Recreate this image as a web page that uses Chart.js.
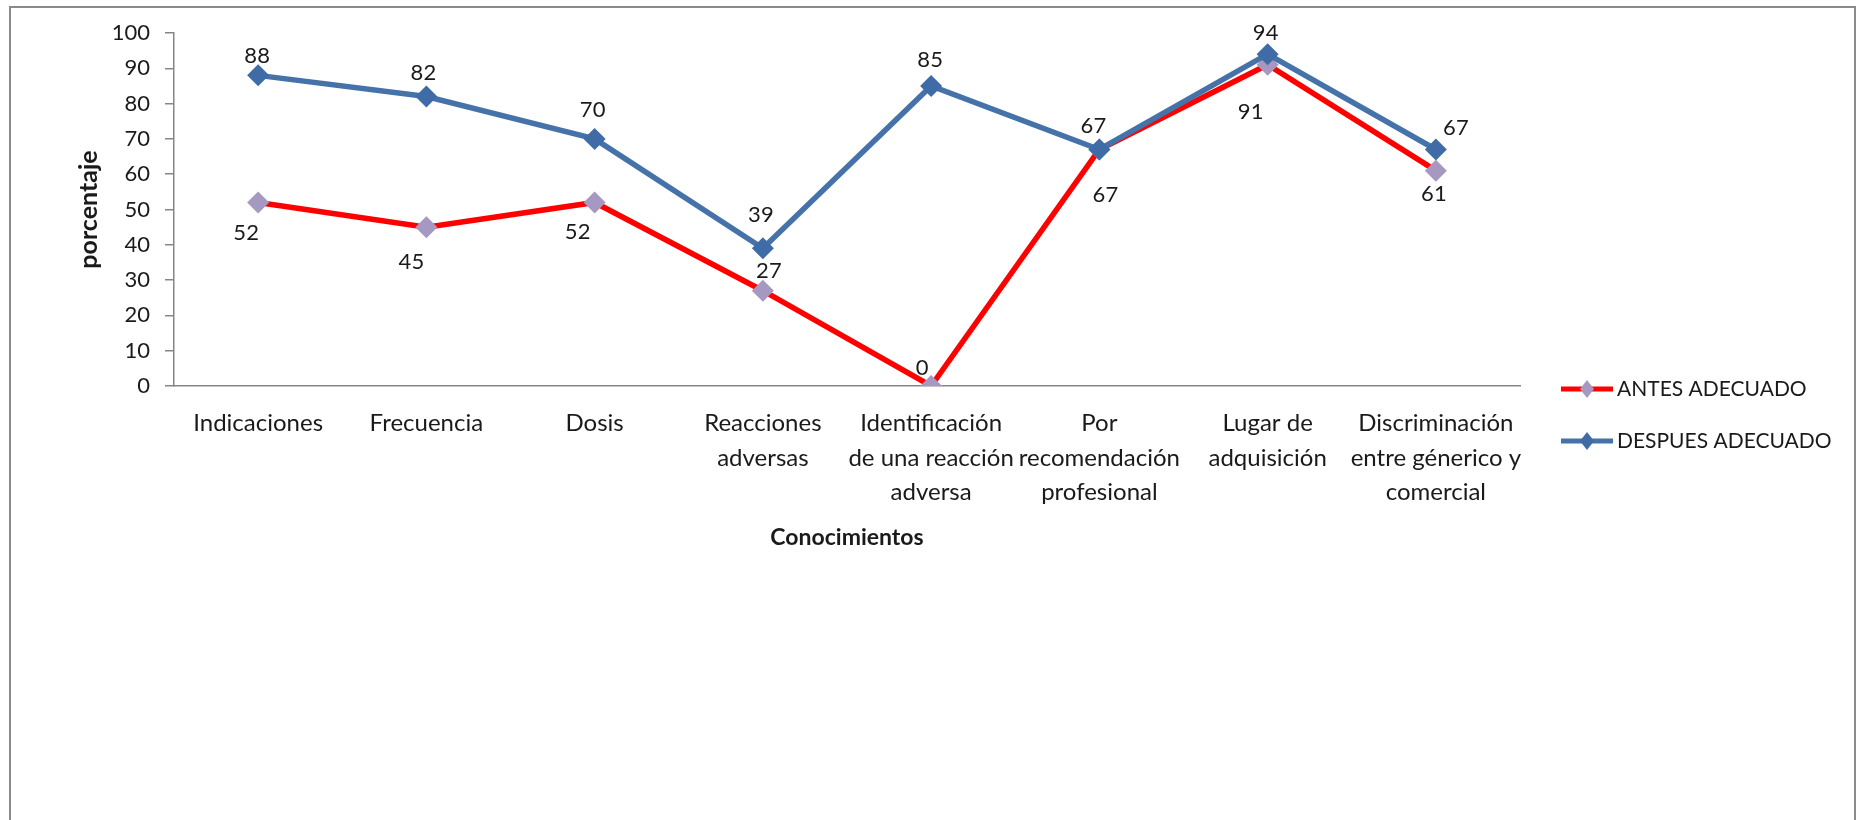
<!DOCTYPE html>
<html>
<head>
<meta charset="utf-8">
<script src="https://cdn.jsdelivr.net/npm/chart.js@4.4.0/dist/chart.umd.min.js"></script>
<style>
  html, body { margin: 0; padding: 0; background: #fff; }
  #wrap { width: 1858px; height: 820px; }
</style>
</head>
<body>
<div id="wrap"><canvas id="chart" width="1858" height="820"></canvas></div>
<script>
// datos
const categorias = [
  "Indicaciones",
  "Frecuencia",
  "Dosis",
  ["Reacciones", "adversas"],
  ["Identificación", "de una reacción", "adversa"],
  ["Por", "recomendación", "profesional"],
  ["Lugar de", "adquisición"],
  ["Discriminación", "entre génerico y", "comercial"]
];
const antesAdecuado = [52, 45, 52, 27, 0, 67, 91, 61];
const despuesAdecuado = [88, 82, 70, 39, 85, 67, 94, 67];
const yTicks = [0, 10, 20, 30, 40, 50, 60, 70, 80, 90, 100];

// desplazamiento de las etiquetas de datos respecto al punto (px)
const offsetsAntes = [[-12, 30], [-15, 35], [-17, 29], [6, -20], [-9, -18], [6, 45], [-17, 47], [-2, 23]];
const offsetsDespues = [[-1, -19], [-3, -24], [-2, -29], [-2, -33], [-1, -26], [-6, -24], [-2, -21], [20, -22]];

const FONT = "Lato, 'Open Sans', sans-serif";
const TEXT = '#1a1a1a';
const AXIS = '#868686';

Chart.defaults.font.family = FONT;
Chart.defaults.color = TEXT;

// marco exterior gris
const marco = {
  id: 'marco',
  beforeDraw(chart) {
    const ctx = chart.ctx;
    ctx.save();
    ctx.fillStyle = '#fff';
    ctx.fillRect(0, 0, chart.width, chart.height);
    ctx.strokeStyle = '#8a8a8a';
    ctx.lineWidth = 2;
    ctx.strokeRect(10, 7, 1845, 900);
    ctx.restore();
  }
};

// etiquetas de valores
const etiquetas = {
  id: 'etiquetas',
  afterDatasetsDraw(chart) {
    const ctx = chart.ctx;
    ctx.save();
    ctx.font = '22px ' + FONT;
    ctx.fillStyle = TEXT;
    ctx.textAlign = 'center';
    ctx.textBaseline = 'middle';
    chart.data.datasets.forEach((ds, i) => {
      chart.getDatasetMeta(i).data.forEach((pt, j) => {
        const [dx, dy] = ds.labelOffsets[j];
        ctx.fillText(String(ds.data[j]), pt.x + dx, pt.y + dy);
      });
    });
    ctx.restore();
  }
};

// leyenda con linea + rombo, como en Excel
const leyenda = {
  id: 'leyenda',
  afterDraw(chart) {
    const ctx = chart.ctx;
    const x0 = chart.chartArea.right + 41;
    ctx.save();
    ctx.font = '21px ' + FONT;
    ctx.textBaseline = 'middle';
    chart.data.datasets.forEach((ds, i) => {
      const y = 389 + i * 52;
      ctx.strokeStyle = ds.borderColor;
      ctx.lineWidth = 5;
      ctx.beginPath();
      ctx.moveTo(x0, y);
      ctx.lineTo(x0 + 52, y);
      ctx.stroke();
      ctx.fillStyle = ds.pointBackgroundColor;
      ctx.beginPath();
      ctx.moveTo(x0 + 26, y - 9);
      ctx.lineTo(x0 + 33, y);
      ctx.lineTo(x0 + 26, y + 9);
      ctx.lineTo(x0 + 19, y);
      ctx.closePath();
      ctx.fill();
      ctx.fillStyle = TEXT;
      ctx.fillText(ds.label, x0 + 56, y);
    });
    ctx.restore();
  }
};

const ctx = document.getElementById('chart').getContext('2d');
new Chart(ctx, {
  type: 'line',
  data: {
    labels: categorias,
    datasets: [
      {
        label: 'ANTES ADECUADO',
        data: antesAdecuado,
        labelOffsets: offsetsAntes,
        borderColor: '#ff0000',
        borderWidth: 5.5,
        pointStyle: 'rectRot',
        pointRadius: 11,
        pointHoverRadius: 11,
        pointBorderWidth: 0,
        pointBackgroundColor: '#a698c0',
        pointBorderColor: '#a698c0',
        tension: 0,
        order: 2
      },
      {
        label: 'DESPUES ADECUADO',
        data: despuesAdecuado,
        labelOffsets: offsetsDespues,
        borderColor: '#4472a9',
        borderWidth: 5.5,
        pointStyle: 'rectRot',
        pointRadius: 11,
        pointHoverRadius: 11,
        pointBorderWidth: 0,
        pointBackgroundColor: '#3f6ca6',
        pointBorderColor: '#3f6ca6',
        tension: 0,
        order: 1
      }
    ]
  },
  options: {
    responsive: false,
    animation: false,
    devicePixelRatio: 1,
    layout: { padding: { left: 0, top: 33, right: 338, bottom: 259 } },
    plugins: {
      legend: { display: false },
      tooltip: { enabled: false }
    },
    scales: {
      x: {
        offset: true,
        grid: { display: false, drawTicks: false },
        border: { display: true, color: AXIS, width: 1.5 },
        ticks: {
          font: { size: 24, lineHeight: 1.44 },
          color: TEXT,
          maxRotation: 0,
          autoSkip: false,
          padding: 20
        },
        title: {
          display: true,
          text: 'Conocimientos',
          font: { size: 23, weight: 'bold' },
          color: TEXT,
          padding: { top: 0, bottom: 10 }
        },
        afterFit(scale) { scale.height = 175; }
      },
      y: {
        min: 0,
        max: 100,
        afterBuildTicks(scale) { scale.ticks = yTicks.map(v => ({ value: v })); },
        grid: { display: true, drawOnChartArea: false, drawTicks: true, tickLength: 9, color: AXIS, lineWidth: 1.5 },
        border: { display: true, color: AXIS, width: 1.5 },
        ticks: {
          font: { size: 22 },
          color: TEXT,
          autoSkip: false,
          padding: 15
        },
        title: {
          display: true,
          text: 'porcentaje',
          font: { size: 25, weight: 'bold' },
          color: TEXT,
          padding: { top: 74, bottom: 0 }
        },
        afterFit(scale) { scale.width = 174; }
      }
    }
  },
  plugins: [marco, etiquetas, leyenda]
});
</script>
</body>
</html>
